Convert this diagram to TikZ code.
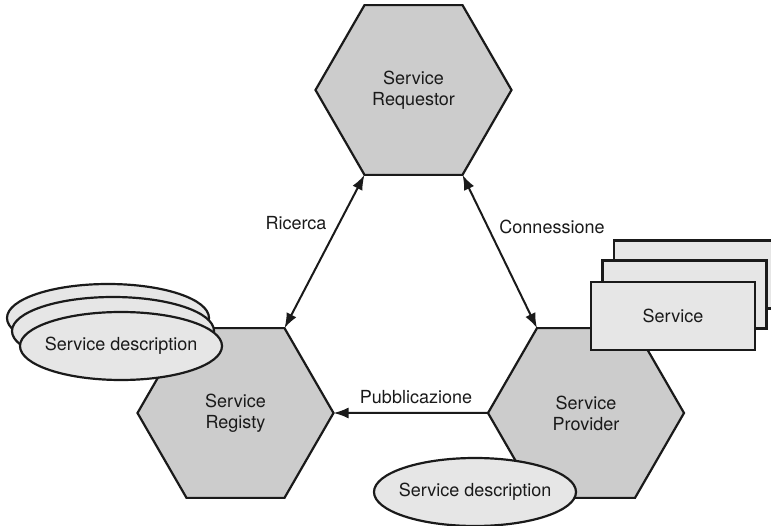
\documentclass[tikz,border=0pt]{standalone}
\usepackage{fontspec}
\setmainfont{TeX Gyre Heros}
\usetikzlibrary{shapes.geometric,arrows.meta}
\definecolor{hexfill}{HTML}{CCCCCC}
\definecolor{docfill}{HTML}{E6E6E6}
\definecolor{ink}{HTML}{1A1A1A}
\begin{document}
\begin{tikzpicture}[x=1pt,y=-1pt,
  every node/.style={font=\fontsize{18}{21}\selectfont, align=center, text=ink},
  role/.style={regular polygon, regular polygon sides=6, minimum size=196pt,
    inner sep=0pt, outer sep=0pt, draw=ink, line width=2.2pt, fill=hexfill},
  doc/.style={ellipse, draw=ink, line width=2.2pt, fill=docfill,
    minimum width=202pt, minimum height=68pt, inner xsep=-5pt, inner ysep=0pt, outer sep=0pt},
  svc/.style={rectangle, draw=ink, line width=2.2pt, fill=docfill,
    minimum width=164pt, minimum height=68pt, inner sep=0pt},
  link/.style={draw=ink, line width=2pt, {Latex[length=15pt,width=11pt]}-{Latex[length=15pt,width=11pt]}},
  pub/.style={draw=ink, line width=2pt, -{Latex[length=15pt,width=11pt]}},
  lbl/.style={inner sep=0pt}
]
\useasboundingbox (0,0) rectangle (771,526);
\clip (0,0) rectangle (771,526);

% the three roles
\node[role] (req) at (413.5,90) {Service\\Requestor};
\node[role] (reg) at (235.5,413) {Service\\Registy};
\node[role] (prov) at (586,413) {Service\\Provider};

% stacked service descriptions held by the registry
\node[doc] (dback) at (108,318) {};
\node[doc] (dmid) at (113,331) {};
\node[doc] (dfront) at (121,346) {Service description};

% description published by the provider
\node[doc] (pdesc) at (475,492) {Service description};

% stacked services of the provider
\node[svc] (sback) at (696,274.5) {};
\node[svc] (smid) at (684.5,294.5) {};
\node[svc] (sfront) at (673,316) {Service};

% interactions
\draw[link] (req.240) -- (reg.60);
\draw[link] (req.300) -- (prov.120);
\draw[pub] (prov.180) -- (reg.0);

\node[lbl] (lric) at (296,223) {Ricerca};
\node[lbl] (lcon) at (552,227) {Connessione};
\node[lbl] (lpub) at (416,397) {Pubblicazione};
\end{tikzpicture}
\end{document}
